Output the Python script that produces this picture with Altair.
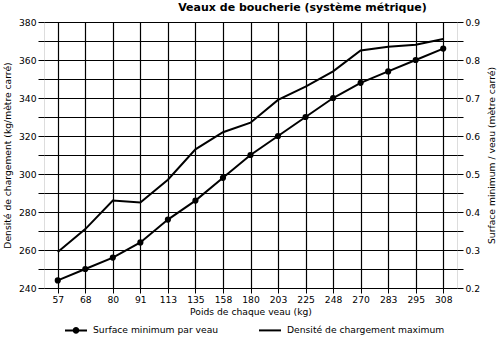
import altair as alt
import pandas as pd

weights = ["57", "68", "80", "91", "113", "135", "158", "180", "203", "225", "248", "270", "283", "295", "308"]
surface = [0.22, 0.25, 0.28, 0.32, 0.38, 0.43, 0.49, 0.55, 0.60, 0.65, 0.70, 0.74, 0.77, 0.80, 0.83]
density = [259, 271, 286, 285, 297, 313, 322, 327, 339, 346, 354, 365, 367, 368, 371]
series_names = ["Surface minimum par veau", "Densité de chargement maximum"]
left_ticks = list(range(240, 381, 10))
right_ticks = [round(0.2 + 0.05 * i, 2) for i in range(15)]

df = pd.DataFrame({"poids": weights, "surface": surface, "densite": density, "serie": series_names[0]})

FONT = "DejaVu Sans"
FS = 9.2

x = alt.X(
    "poids:N", sort=weights,
    scale=alt.Scale(type="point", padding=0.5),
    axis=alt.Axis(title="Poids de chaque veau (kg)", labelAngle=0, grid=True,
                  gridColor="black", gridOpacity=1, gridWidth=1.2,
                  tickColor="black", tickSize=5, domain=False,
                  labelFontSize=FS, titleFontSize=FS, labelFont=FONT, titleFont=FONT,
                  titleFontWeight="normal", labelColor="black", titleColor="black",
                  labelPadding=2, titlePadding=3),
)

y_left = alt.Y(
    "densite:Q",
    scale=alt.Scale(domain=[240, 380], nice=False, zero=False),
    axis=alt.Axis(orient="left", title="Densité de chargement (kg/mètre carré)",
                  values=left_ticks,
                  labelExpr="datum.value % 20 == 0 ? datum.label : ''",
                  grid=True, gridColor="black", gridOpacity=1, gridWidth=1.2,
                  tickColor="black", tickSize=6, domain=False,
                  labelFontSize=FS, titleFontSize=FS, labelFont=FONT, titleFont=FONT,
                  titleFontWeight="normal", labelColor="black", titleColor="black",
                  labelPadding=2, titlePadding=6),
)

y_right = alt.Y(
    "surface:Q",
    scale=alt.Scale(domain=[0.2, 0.9], nice=False, zero=False),
    axis=alt.Axis(orient="right", title="Surface minimum / veau (mètre carré)",
                  values=right_ticks,
                  labelExpr="round(datum.value * 100) % 10 == 0 ? format(datum.value, '.1f') : ''",
                  grid=False, tickColor="black", tickSize=6, domain=False,
                  labelFontSize=FS, titleFontSize=FS, labelFont=FONT, titleFont=FONT,
                  titleFontWeight="normal", labelColor="black", titleColor="black",
                  labelPadding=2, titlePadding=8, titleAngle=270, titleBaseline="top"),
)

dens_line = alt.Chart(df).mark_line(color="black", strokeWidth=2).encode(x=x, y=y_left)

surf_line = alt.Chart(df).mark_line(color="black", strokeWidth=2).encode(x=x, y=y_right)
surf_pts = alt.Chart(df).mark_circle(color="black", size=38, opacity=1).encode(x=x, y=y_right)

bar_path = "M-1,-0.09L1,-0.09L1,0.09L-1,0.09Z"
circle_path = bar_path + "M0.3,0A0.3,0.3 0 1,1 -0.3,0A0.3,0.3 0 1,1 0.3,0Z"
line_path = bar_path

legend_layer = alt.Chart(df).transform_filter("false").mark_point(
    filled=True, color="black", opacity=1
).encode(
    x=x, y=y_right,
    shape=alt.Shape("serie:N",
                    scale=alt.Scale(domain=series_names, range=[circle_path, line_path]),
                    legend=alt.Legend(title=None, orient="none", direction="horizontal",
                                      legendX=21, legendY=297,
                                      symbolOpacity=1, symbolFillColor="black",
                                      symbolStrokeColor="black", symbolStrokeWidth=0,
                                      symbolSize=484, labelFontSize=FS, labelFont=FONT,
                                      labelColor="black", columnPadding=40,
                                      labelOffset=6)),
)

chart = alt.layer(
    dens_line,
    alt.layer(surf_line, surf_pts, legend_layer),
).resolve_scale(y="independent").properties(
    width=413, height=266,
    title=alt.Title("Veaux de boucherie (système métrique)", fontSize=11, font=FONT,
                    fontWeight="bold", color="black", anchor="middle", dx=52, offset=5),
    autosize=alt.AutoSizeParams(type="none"),
    padding={"left": 44, "top": 22, "right": 40, "bottom": 49},
).configure_view(stroke="black", strokeWidth=2).configure(background="white")

chart.save("out.html", embed_options={"renderer": "svg", "actions": False})
